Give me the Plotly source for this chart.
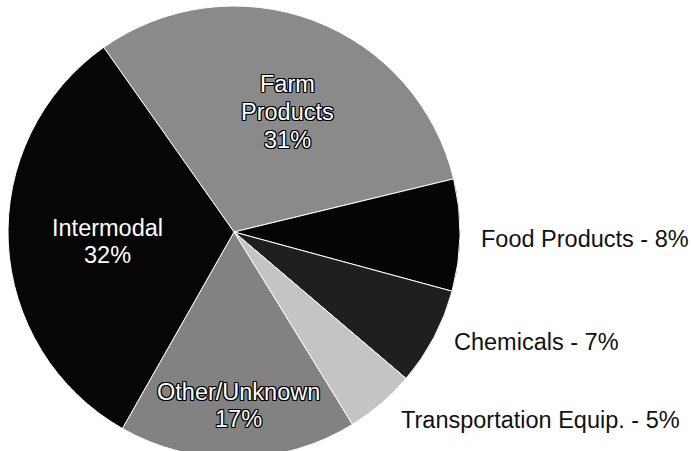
import plotly.graph_objects as go

# ---- data ----
labels = ["Farm Products", "Food Products", "Chemicals",
          "Transportation Equip.", "Other/Unknown", "Intermodal"]
values = [31, 8, 7, 5, 17, 32]
colors = ["#8a8a8a", "#050505", "#1f1f1f", "#c4c4c4", "#828282", "#060606"]

# inside label line breaks (text only)
inside_lines = {
    "Farm Products": ["Farm", "Products"],
    "Other/Unknown": ["Other/Unknown"],
    "Intermodal": ["Intermodal"],
}
outlined = {"Farm Products", "Other/Unknown"}

# ---- layout / positions (pixels from top-left of the 691x451 view) ----
W, H = 691, 451
HF = 466                  # figure a bit taller: the pie runs off the bottom edge
PIE_CX, PIE_CY, PIE_R = 234, 232, 226
inside_pos = {            # (x centre, y of first line, line step)
    "Farm Products": (287, 84.5, 27.5),
    "Other/Unknown": (238.5, 391.5, 27),
    "Intermodal": (108, 227.5, 27.5),
}
outside_pos = {           # (left x, y centre)
    "Food Products": (479, 239),
    "Chemicals": (452, 342),
    "Transportation Equip.": (399, 420),
}

FONT = "Arial, Liberation Sans, sans-serif"
FS = 23.5

fig = go.Figure(go.Pie(
    labels=labels,
    values=values,
    sort=False,
    direction="clockwise",
    rotation=-35.2,
    marker=dict(colors=colors, line=dict(color="#ffffff", width=1)),
    textinfo="none",
    hoverinfo="label+percent",
    showlegend=False,
    domain=dict(x=[(PIE_CX - PIE_R) / W, (PIE_CX + PIE_R) / W],
                y=[(HF - PIE_CY - PIE_R) / HF, (HF - PIE_CY + PIE_R) / HF]),
))

def px2paper(x, y):
    return x / W, 1 - y / HF

ann = []
shadow = ("-1px -1px 0 #000, 1px -1px 0 #000, -1px 1px 0 #000, 1px 1px 0 #000,"
          " 0 1px 0 #000, 0 -1px 0 #000, 1px 0 0 #000, -1px 0 0 #000")
for lab, val in zip(labels, values):
    if lab in inside_pos:
        cx, y0, step = inside_pos[lab]
        lines = inside_lines[lab] + [f"{val}%"]
        for i, t in enumerate(lines):
            x, y = px2paper(cx, y0 + i * step)
            font = dict(family=FONT, size=FS, color="#ffffff")
            if lab in outlined:
                font["shadow"] = shadow
            ann.append(dict(x=x, y=y, xref="paper", yref="paper", text=t,
                            showarrow=False, xanchor="center", yanchor="middle",
                            font=font))
    else:
        lx, cy = outside_pos[lab]
        x, y = px2paper(lx, cy)
        ann.append(dict(x=x, y=y, xref="paper", yref="paper",
                        text=f"{lab} - {val}%", showarrow=False,
                        xanchor="left", yanchor="middle",
                        font=dict(family=FONT, size=FS, color="#111111")))

fig.update_layout(
    width=W, height=HF,
    margin=dict(l=0, r=0, t=0, b=0),
    paper_bgcolor="#ffffff",
    plot_bgcolor="#ffffff",
    annotations=ann,
)

fig.write_html(
    "out.html",
    config={"displayModeBar": False},
    post_script=("document.body.style.margin='0';"
                 "document.documentElement.style.overflow='hidden';"
                 "document.body.style.overflow='hidden';"),
)
